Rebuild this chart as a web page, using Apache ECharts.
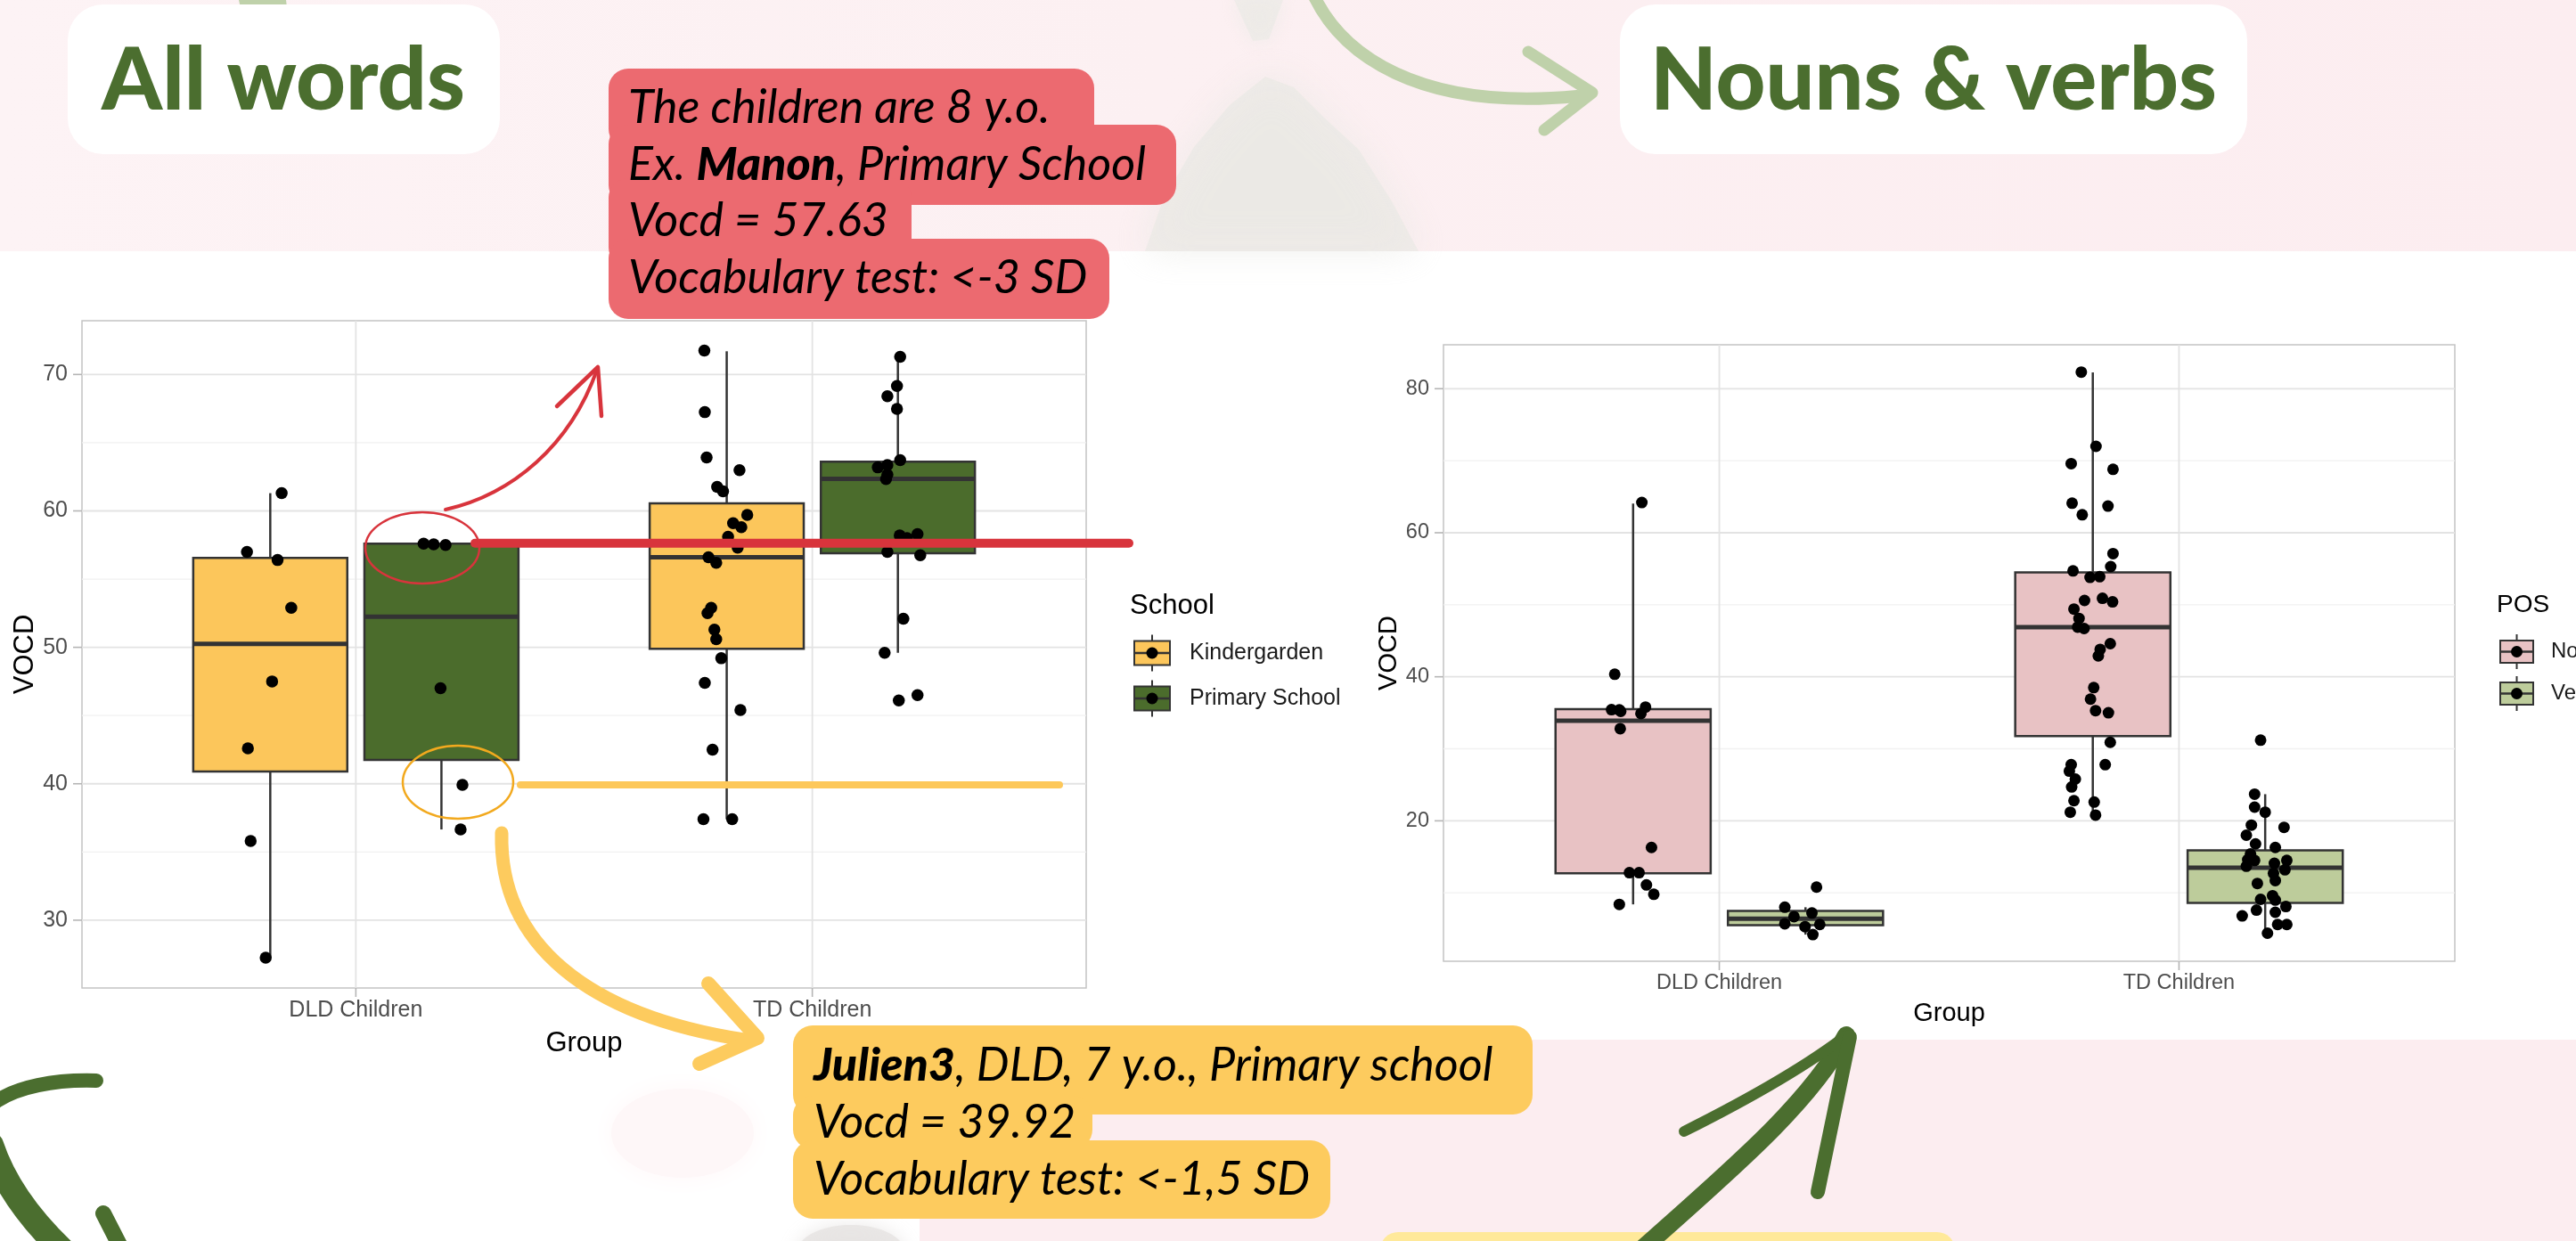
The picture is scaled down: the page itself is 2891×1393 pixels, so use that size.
<!DOCTYPE html>
<html>
<head>
<meta charset="utf-8">
<script src="https://cdn.jsdelivr.net/npm/echarts@6/dist/echarts.min.js"></script>
<style>
html, body { margin: 0; padding: 0; background: #fff; }
#bgTop { position: absolute; left: 0; top: 0; width: 2891px; height: 282px; background: linear-gradient(90deg, #fdf3f5 0%, #fcf0f2 45%, #fcedf0 100%); }
#bgBottom { position: absolute; left: 1032px; top: 1167px; width: 1859px; height: 226px; background: #fcedf0; }
#main { position: absolute; left: 0; top: 0; width: 2891px; height: 1393px; }
</style>
</head>
<body>
<div id="bgTop"></div>
<div id="bgBottom"></div>
<div id="main"></div>
<script>
// ---------- shared ----------
var groupNames = ['DLD Children', 'TD Children'];
var groupPos = [1, 2];

// ---------- left chart : all words, by school ----------
var schoolNames = ['Kindergarden', 'Primary School'];
var yMajorL = [30, 40, 50, 60, 70];
var yMinorL = [35, 45, 55, 65];
// [lower whisker, Q1, median, Q3, upper whisker]
var kgDldBox = [27.25, 40.9, 50.25, 56.55, 61.3];
var psDldBox = [36.65, 41.75, 52.25, 57.6, 57.6];
var kgTdBox = [37.4, 49.9, 56.6, 60.55, 71.7];
var psTdBox = [49.6, 56.9, 62.35, 63.6, 71.3];
var kgDldVocd = [61.3, 57.0, 56.4, 52.9, 47.5, 42.6, 35.8, 27.25];
var kgDldJit = [0.025, -0.051, 0.016, 0.046, 0.004, -0.049, -0.043, -0.010];
var psDldVocd = [57.6, 57.55, 57.5, 47.0, 39.92, 36.65];
var psDldJit = [-0.039, -0.017, 0.009, -0.002, 0.046, 0.042];
var kgTdVocd = [71.75, 67.24, 63.92, 62.99, 61.76, 61.43, 59.7, 59.1, 58.8, 58.1, 57.3, 56.6, 56.2, 52.9, 52.5, 51.3, 50.6, 49.2, 47.4, 45.4, 42.5, 37.4, 37.4];
var kgTdJit = [-0.049, -0.048, -0.044, 0.028, -0.021, -0.008, 0.045, 0.014, 0.032, 0.003, 0.024, -0.040, -0.023, -0.034, -0.042, -0.027, -0.023, -0.012, -0.048, 0.030, -0.031, -0.051, 0.012];
var psTdVocd = [71.3, 69.16, 68.4, 67.47, 63.72, 63.19, 63.36, 62.33, 62.66, 58.2, 58.0, 58.3, 57.0, 56.75, 52.1, 49.6, 46.1, 46.5];
var psTdJit = [0.005, -0.002, -0.023, -0.002, 0.005, -0.044, -0.023, -0.026, -0.023, 0.004, 0.020, 0.043, -0.023, 0.049, 0.012, -0.029, 0.002, 0.043];
var manonVocd = 57.63;
var julienVocd = 39.92;

// ---------- right chart : nouns & verbs ----------
var posNames = ['Nouns', 'Verbs'];
var yMajorR = [20, 40, 60, 80];
var yMinorR = [10, 30, 50, 70];
var nounDldBox = [8.4, 12.7, 33.9, 35.5, 64.05];
var verbDldBox = [4.2, 5.5, 6.4, 7.5, 8.0];
var nounTdBox = [20.8, 31.75, 46.9, 54.5, 82.26];
var verbTdBox = [4.4, 8.6, 13.5, 15.9, 23.7];
var nounDldVocd = [64.2, 40.35, 35.43, 35.4, 35.2, 35.8, 34.9, 32.8, 16.3, 12.8, 12.8, 11.1, 9.8, 8.4];
var nounDldJit = [0.019, -0.040, -0.047, -0.030, -0.027, 0.027, 0.017, -0.028, 0.040, -0.008, 0.013, 0.029, 0.045, -0.030];
var verbDldVocd = [10.8, 8.0, 7.2, 6.7, 5.7, 5.3, 5.6, 4.2];
var verbDldJit = [0.024, -0.045, 0.014, -0.025, -0.045, -0.001, 0.031, 0.016];
var nounTdVocd = [82.3, 72.0, 69.6, 68.8, 64.1, 63.7, 62.5, 57.1, 55.3, 54.7, 53.8, 53.9, 50.6, 50.9, 50.4, 49.4, 48.1, 46.9, 46.7, 44.6, 43.8, 42.9, 38.5, 36.9, 35.3, 35.0, 30.9, 27.8, 27.8, 26.9, 25.8, 24.7, 22.8, 22.6, 21.2, 20.8];
var nounTdJit = [-0.025, 0.007, -0.047, 0.044, -0.045, 0.033, -0.023, 0.044, 0.039, -0.043, -0.006, 0.015, -0.018, 0.021, 0.043, -0.041, -0.030, -0.033, -0.019, 0.038, 0.016, 0.012, 0.002, -0.005, 0.006, 0.034, 0.038, 0.027, -0.047, -0.051, -0.038, -0.046, -0.041, 0.003, -0.049, 0.006];
var verbTdVocd = [31.2, 23.7, 21.9, 21.2, 19.4, 19.1, 18.0, 16.8, 16.3, 15.4, 14.6, 14.5, 14.5, 14.1, 13.7, 13.2, 12.7, 11.7, 11.3, 9.6, 9.1, 9.0, 8.1, 7.6, 7.3, 6.8, 5.6, 5.6, 4.4];
var verbTdJit = [-0.010, -0.023, -0.023, 0, -0.030, 0.041, -0.041, -0.021, 0.022, -0.032, -0.038, -0.023, 0.047, 0.020, -0.041, 0.043, 0.018, 0.022, -0.017, 0.016, -0.010, 0.022, 0.045, -0.019, 0.022, -0.050, 0.027, 0.047, 0.005];

var DODGE = 0.1875, BOX_W = 0.3375;
var FONT = 'Liberation Sans';
var col = { kg: '#FCC65B', ps: '#4B6C2C', noun: '#E8C2C4', verb: '#BDCC9B',
            red: '#D8343C', redBox: '#EC6A70', yellow: '#FDCB5E', green: '#4B6E2F', pale: '#BFD1AA' };

function boxRow(pos, stats) { return [pos].concat(stats); }

function points(pos, vals, jit) {
    return vals.map(function (v, i) { return [pos + jit[i], v]; });
}

function boxSeries(xi, boxes, color) {
    return {
        type: 'custom', xAxisIndex: xi, yAxisIndex: xi, z: 3, silent: true,
        encode: { x: 0, y: [1, 2, 3, 4, 5] },
        data: boxes,
        renderItem: function (params, api) {
            var x = api.value(0);
            var lo = api.coord([x, api.value(1)]);
            var q1 = api.coord([x, api.value(2)]);
            var md = api.coord([x, api.value(3)]);
            var q3 = api.coord([x, api.value(4)]);
            var hi = api.coord([x, api.value(5)]);
            var w = api.size([BOX_W, 0])[0];
            var l = q1[0] - w / 2;
            return { type: 'group', children: [
                { type: 'line', shape: { x1: lo[0], y1: lo[1], x2: q1[0], y2: q1[1] }, style: { stroke: '#333', lineWidth: 2.5 } },
                { type: 'line', shape: { x1: q3[0], y1: q3[1], x2: hi[0], y2: hi[1] }, style: { stroke: '#333', lineWidth: 2.5 } },
                { type: 'rect', shape: { x: l, y: q3[1], width: w, height: q1[1] - q3[1] }, style: { fill: color, stroke: '#333', lineWidth: 2.5 } },
                { type: 'line', shape: { x1: l, y1: md[1], x2: l + w, y2: md[1] }, style: { stroke: '#333', lineWidth: 5 } }
            ] };
        }
    };
}

// grid lines and ticks: kind 0 = major y, 1 = minor y, 2 = major x
function frameSeries(xi, yMajor, yMinor) {
    var data = [];
    yMajor.forEach(function (v) { data.push([0, v]); });
    yMinor.forEach(function (v) { data.push([1, v]); });
    groupPos.forEach(function (v) { data.push([2, v]); });
    return {
        type: 'custom', xAxisIndex: xi, yAxisIndex: xi, z: 1, silent: true,
        data: data,
        renderItem: function (params, api) {
            var cs = params.coordSys, kind = api.value(0), v = api.value(1);
            var major = { stroke: '#E3E3E3', lineWidth: 1.8 };
            var tick = { stroke: '#B5B5B5', lineWidth: 1.6 };
            if (kind === 2) {
                var px = api.coord([v, 0])[0];
                var b = cs.y + cs.height;
                return { type: 'group', children: [
                    { type: 'line', shape: { x1: px, y1: cs.y, x2: px, y2: b }, style: major },
                    { type: 'line', shape: { x1: px, y1: b, x2: px, y2: b + 10 }, style: tick }
                ] };
            }
            var py = api.coord([1, v])[1];
            var kids = [{ type: 'line', shape: { x1: cs.x, y1: py, x2: cs.x + cs.width, y2: py },
                          style: kind === 0 ? major : { stroke: '#F1F1F1', lineWidth: 1.3 } }];
            if (kind === 0) kids.push({ type: 'line', shape: { x1: cs.x - 10, y1: py, x2: cs.x, y2: py }, style: tick });
            return { type: 'group', children: kids };
        }
    };
}

function groupLabel(v) {
    for (var i = 0; i < groupPos.length; i++) if (Math.abs(v - groupPos[i]) < 1e-6) return groupNames[i];
    return '';
}
function majorLabel(list) {
    return function (v) {
        for (var i = 0; i < list.length; i++) if (Math.abs(v - list[i]) < 1e-6) return String(list[i]);
        return '';
    };
}

function xAxisOf(gi, fs, ts, gap, margin) {
    return {
        gridIndex: gi, type: 'value', min: 0.4, max: 2.6,
        axisLine: { show: false }, axisTick: { show: false }, splitLine: { show: false },
        axisLabel: { formatter: groupLabel, margin: margin, color: '#4D4D4D', fontSize: fs, fontFamily: FONT },
        name: 'Group', nameLocation: 'middle', nameGap: gap,
        nameTextStyle: { fontSize: ts, color: '#000', fontFamily: FONT }
    };
}
function yAxisOf(gi, min, max, majors, fs, ts, gap) {
    return {
        gridIndex: gi, type: 'value', min: min, max: max,
        axisLine: { show: false }, axisTick: { show: false }, splitLine: { show: false },
        axisLabel: { formatter: majorLabel(majors), margin: 16, color: '#4D4D4D', fontSize: fs, fontFamily: FONT },
        name: 'VOCD', nameLocation: 'middle', nameGap: gap,
        nameTextStyle: { fontSize: ts, color: '#000', fontFamily: FONT }
    };
}

var left = { pos: groupPos.map(function (p) { return p - DODGE; }) };
var right = { pos: groupPos.map(function (p) { return p + DODGE; }) };

var option = {
    animation: false,
    grid: [
        { left: 92, top: 360, width: 1127, height: 749, show: true, backgroundColor: '#fff', borderColor: '#C4C4C4', borderWidth: 1.5 },
        { left: 1620, top: 387, width: 1135, height: 692, show: true, backgroundColor: '#fff', borderColor: '#C4C4C4', borderWidth: 1.5 }
    ],
    xAxis: [xAxisOf(0, 25, 31, 47, 13), xAxisOf(1, 23.5, 29, 44, 13)],
    yAxis: [yAxisOf(0, 25.03, 73.94, yMajorL, 25, 31, 44), yAxisOf(1, 0.5, 86.1, yMajorR, 23.5, 29, 38)],
    series: [
        frameSeries(0, yMajorL, yMinorL),
        frameSeries(1, yMajorR, yMinorR),
        boxSeries(0, [boxRow(left.pos[0], kgDldBox), boxRow(left.pos[1], kgTdBox)], col.kg),
        boxSeries(0, [boxRow(right.pos[0], psDldBox), boxRow(right.pos[1], psTdBox)], col.ps),
        boxSeries(1, [boxRow(left.pos[0], nounDldBox), boxRow(left.pos[1], nounTdBox)], col.noun),
        boxSeries(1, [boxRow(right.pos[0], verbDldBox), boxRow(right.pos[1], verbTdBox)], col.verb),
        {
            type: 'scatter', xAxisIndex: 0, yAxisIndex: 0, z: 4, symbolSize: 13.5, silent: true,
            itemStyle: { color: '#000', opacity: 1 },
            data: [].concat(points(left.pos[0], kgDldVocd, kgDldJit), points(right.pos[0], psDldVocd, psDldJit),
                            points(left.pos[1], kgTdVocd, kgTdJit), points(right.pos[1], psTdVocd, psTdJit))
        },
        {
            type: 'scatter', xAxisIndex: 1, yAxisIndex: 1, z: 4, symbolSize: 13, silent: true,
            itemStyle: { color: '#000', opacity: 1 },
            data: [].concat(points(left.pos[0], nounDldVocd, nounDldJit), points(right.pos[0], verbDldVocd, verbDldJit),
                            points(left.pos[1], nounTdVocd, nounTdJit), points(right.pos[1], verbTdVocd, verbTdJit))
        }
    ]
};

var chart = echarts.init(document.getElementById('main'));
chart.setOption(option);

// ---------- legends & decorations ----------
function txt(text, x, y, size, color, extra) {
    var s = { text: text, x: x, y: y, fill: color, fontSize: size, fontFamily: FONT,
              align: 'left', verticalAlign: 'middle', textAlign: 'left', textVerticalAlign: 'middle' };
    for (var k in extra) s[k] = extra[k];
    return { type: 'text', z: 60, style: s };
}
function legendKey(x, yc, w, h, fill) {
    var cx = x + w / 2;
    return [
        { type: 'line', z: 60, shape: { x1: cx, y1: yc - h / 2 - 7, x2: cx, y2: yc + h / 2 + 7 }, style: { stroke: '#333', lineWidth: 2 } },
        { type: 'rect', z: 60, shape: { x: x, y: yc - h / 2, width: w, height: h }, style: { fill: fill, stroke: '#333', lineWidth: 2 } },
        { type: 'line', z: 60, shape: { x1: x, y1: yc, x2: x + w, y2: yc }, style: { stroke: '#333', lineWidth: 2.5 } },
        { type: 'circle', z: 61, shape: { cx: cx, cy: yc, r: 6.5 }, style: { fill: '#000' } }
    ];
}
function calloutText(lines, x, y0, step) {
    return lines.map(function (ln, i) {
        return { type: 'text', z: 61, style: {
            text: ln, x: x, y: y0 + i * step, fill: '#000', fontSize: 52, fontFamily: 'Lato', fontStyle: 'italic',
            align: 'left', verticalAlign: 'middle', textAlign: 'left', textVerticalAlign: 'middle',
            rich: {
                n: { fontSize: 52, fontFamily: 'Lato', fontStyle: 'italic', fontWeight: 400, fill: '#000' },
                b: { fontSize: 52, fontFamily: 'Lato', fontStyle: 'italic', fontWeight: 900, fill: '#000' }
            } } };
    });
}
function stroke(shapeType, shape, color, width, z) {
    return { type: shapeType, z: z || 70, shape: shape,
             style: { fill: null, stroke: color, lineWidth: width, lineCap: 'round', lineJoin: 'round' } };
}

var yManon = chart.convertToPixel({ yAxisIndex: 0 }, manonVocd);
var yJulien = chart.convertToPixel({ yAxisIndex: 0 }, julienVocd);

var g = [];
// soft background blobs
g.push({ type: 'polygon', z: 5, shape: { points: [[1285, 282], [1305, 225], [1340, 165], [1380, 118], [1420, 86], [1452, 98], [1486, 132], [1525, 168], [1562, 226], [1592, 282]] },
    style: { fill: '#E7E8E2', opacity: 0.6, shadowBlur: 40, shadowColor: '#E7E8E2' } });
g.push({ type: 'polygon', z: 5, shape: { points: [[1385, 0], [1440, 0], [1424, 44], [1406, 46]] },
    style: { fill: '#E9EAE4', opacity: 0.6, shadowBlur: 20, shadowColor: '#E9EAE4' } });
g.push({ type: 'ellipse', z: 5, shape: { cx: 766, cy: 1272, rx: 80, ry: 50 }, style: { fill: '#FEF7F8', shadowBlur: 30, shadowColor: '#FEF7F8' } });
g.push({ type: 'ellipse', z: 5, shape: { cx: 955, cy: 1405, rx: 60, ry: 30 }, style: { fill: '#E6E4E2', opacity: 0.8, shadowBlur: 20, shadowColor: '#E6E4E2' } });
g.push({ type: 'polygon', z: 5, shape: { points: [[268, 0], [321, 0], [322, 8], [272, 18]] }, style: { fill: col.pale } });
// title boxes
g.push({ type: 'rect', z: 10, shape: { x: 76, y: 5, width: 485, height: 168, r: 40 }, style: { fill: '#fff' } });
g.push({ type: 'rect', z: 10, shape: { x: 1818, y: 5, width: 704, height: 168, r: 40 }, style: { fill: '#fff' } });
g.push({ type: 'text', z: 11, style: { text: 'All words', x: 318, y: 92, fill: col.green, fontSize: 97, fontWeight: 900, fontFamily: 'Lato',
    align: 'center', verticalAlign: 'middle', textAlign: 'center', textVerticalAlign: 'middle' } });
g.push({ type: 'text', z: 11, style: { text: 'Nouns & verbs', x: 2170, y: 92, fill: col.green, fontSize: 97, fontWeight: 900, fontFamily: 'Lato',
    align: 'center', verticalAlign: 'middle', textAlign: 'center', textVerticalAlign: 'middle' } });
// red callout
[[683, 77, 545, 90], [683, 140, 637, 90], [683, 200, 340, 100], [683, 268, 562, 90]].forEach(function (r) {
    g.push({ type: 'rect', z: 60, shape: { x: r[0], y: r[1], width: r[2], height: r[3], r: 22 }, style: { fill: col.redBox } });
});
g = g.concat(calloutText(['{n|The children are 8 y.o.}', '{n|Ex. }{b|Manon}{n|, Primary School}', '{n|Vocd = 57.63}', '{n|Vocabulary test: <-3 SD}'], 705, 121, 63.8));
// yellow callout
[[890, 1151, 830, 100], [890, 1230, 336, 60], [890, 1280, 603, 88]].forEach(function (r) {
    g.push({ type: 'rect', z: 60, shape: { x: r[0], y: r[1], width: r[2], height: r[3], r: 22 }, style: { fill: col.yellow } });
});
g = g.concat(calloutText(['{b|Julien3}{n|, DLD, 7 y.o., Primary school}', '{n|Vocd = 39.92}', '{n|Vocabulary test: <-1,5 SD}'], 913, 1196, 64));
// legend : School
g.push(txt('School', 1268, 680, 31, '#000'));
schoolNames.forEach(function (n, i) {
    var yc = 733 + i * 51;
    g = g.concat(legendKey(1273, yc, 40, 27, i === 0 ? col.kg : col.ps));
    g.push(txt(n, 1335, yc, 25, '#1a1a1a'));
});
// legend : POS
g.push(txt('POS', 2802, 679, 28, '#000'));
posNames.forEach(function (n, i) {
    var yc = 731.5 + i * 47;
    g = g.concat(legendKey(2806, yc, 37, 25, i === 0 ? col.noun : col.verb));
    g.push(txt(n, 2863, yc, 24, '#1a1a1a'));
});
// annotations on the left chart
g.push(stroke('line', { x1: 533, y1: yManon, x2: 1267, y2: yManon }, col.red, 10));
g.push(stroke('line', { x1: 584, y1: yJulien, x2: 1189, y2: yJulien }, '#FDC85A', 8));
g.push(stroke('ellipse', { cx: 474, cy: 615, rx: 64, ry: 40 }, col.red, 2.5));
g.push(stroke('ellipse', { cx: 514, cy: 878, rx: 62, ry: 41 }, '#F2A91E', 2.5));
g.push(stroke('bezierCurve', { x1: 500, y1: 572, cpx1: 575, cpy1: 555, cpx2: 640, cpy2: 500, x2: 670, y2: 415 }, col.red, 4));
g.push(stroke('polyline', { points: [[625, 456], [671, 412], [675, 467]] }, col.red, 4.5));
// big yellow arrow
g.push(stroke('bezierCurve', { x1: 563, y1: 935, cpx1: 560, cpy1: 1060, cpx2: 660, cpy2: 1140, x2: 835, y2: 1167 }, col.yellow, 15));
g.push(stroke('polyline', { points: [[795, 1104], [850, 1165], [785, 1194]] }, col.yellow, 16));
// pale green arrow at the top
g.push(stroke('bezierCurve', { x1: 1474, y1: -6, cpx1: 1505, cpy1: 60, cpx2: 1590, cpy2: 125, x2: 1770, y2: 108 }, col.pale, 14));
g.push(stroke('polyline', { points: [[1715, 58], [1787, 104], [1733, 146]] }, col.pale, 13));
// dark green arrow (bottom right)
g.push(stroke('bezierCurve', { x1: 1845, y1: 1400, cpx1: 1940, cpy1: 1315, cpx2: 2030, cpy2: 1240, x2: 2072, y2: 1162 }, col.green, 20));
g.push(stroke('bezierCurve', { x1: 1890, y1: 1270, cpx1: 1960, cpy1: 1235, cpx2: 2030, cpy2: 1195, x2: 2075, y2: 1160 }, col.green, 12));
g.push(stroke('line', { x1: 2040, y1: 1338, x2: 2076, y2: 1164 }, col.green, 16));
// dark green swoosh (bottom left)
g.push(stroke('bezierCurve', { x1: 108, y1: 1213, cpx1: 10, cpy1: 1210, cpx2: -50, cpy2: 1250, x2: -10, y2: 1290 }, col.green, 16));
g.push(stroke('bezierCurve', { x1: -10, y1: 1285, cpx1: 5, cpy1: 1330, cpx2: 35, cpy2: 1370, x2: 72, y2: 1405 }, col.green, 28));
g.push(stroke('line', { x1: 116, y1: 1362, x2: 138, y2: 1405 }, col.green, 18));
// light yellow box at the bottom
g.push({ type: 'rect', z: 10, shape: { x: 1549, y: 1383, width: 645, height: 40, r: 20 }, style: { fill: '#FFE99A' } });

chart.setOption({ graphic: { elements: g } });
</script>
</body>
</html>
